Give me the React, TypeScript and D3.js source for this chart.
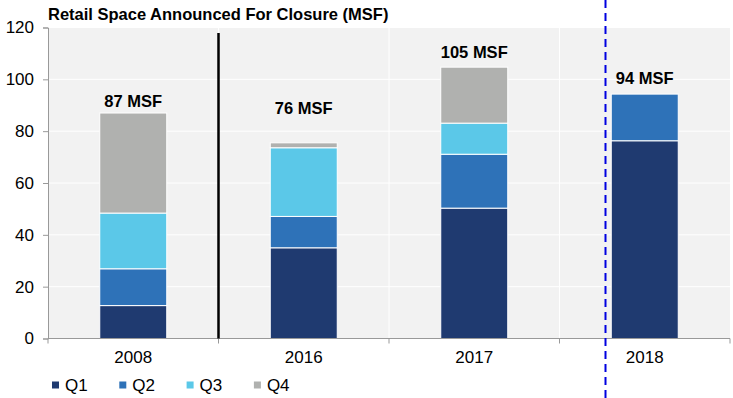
import { useEffect, useRef } from 'react';
import * as d3 from 'd3';

const years = ['2008', '2016', '2017', '2018'];
const quarters = ['Q1', 'Q2', 'Q3', 'Q4'];
const q1 = [12.7, 35.0, 50.3, 76.3];
const q2 = [14.2, 12.1, 20.8, 18.0];
const q3 = [21.5, 26.5, 12.0, 0];
const q4 = [38.6, 1.9, 21.6, 0];
const totalLabels = ['87 MSF', '76 MSF', '105 MSF', '94 MSF'];
const yTicks = [0, 20, 40, 60, 80, 100, 120];

const colors = ['#1f3a70', '#2e72b8', '#5bc8e8', '#b0b1af'];

const App = () => {
  const ref = useRef<SVGSVGElement>(null);

  useEffect(() => {
    if (!ref.current) return;
    const svg = d3.select(ref.current);
    svg.selectAll('*').remove();

    const left = 48, right = 730, top = 27.5, bottom = 338.5;
    const font = 'Liberation Sans, Arial, sans-serif';

    const x = d3.scaleBand().domain(years).range([left, right]).paddingInner(0).paddingOuter(0);
    const y = d3.scaleLinear().domain([0, 120]).range([bottom, top]);
    const barW = 67;

    // plot background
    svg.append('rect')
      .attr('x', left).attr('y', top)
      .attr('width', right - left).attr('height', bottom - top)
      .attr('fill', '#f2f2f2');

    // horizontal grid
    svg.append('g')
      .selectAll('line')
      .data(yTicks.filter(d => d > 0))
      .enter().append('line')
      .attr('x1', left).attr('x2', right)
      .attr('y1', d => y(d)).attr('y2', d => y(d))
      .attr('stroke', '#fff').attr('stroke-width', 1);

    // vertical grid at category boundaries
    svg.append('g')
      .selectAll('line')
      .data(years.slice(1))
      .enter().append('line')
      .attr('x1', d => x(d)!).attr('x2', d => x(d)!)
      .attr('y1', top).attr('y2', bottom)
      .attr('stroke', '#fff').attr('stroke-width', 1);

    // stacked bars
    const rows = years.map((yr, i) => ({ year: yr, Q1: q1[i], Q2: q2[i], Q3: q3[i], Q4: q4[i] }));
    const stack = d3.stack<any>().keys(quarters)(rows);

    svg.append('g')
      .selectAll('g')
      .data(stack)
      .enter().append('g')
      .attr('fill', (_, i) => colors[i])
      .selectAll('rect')
      .data(d => d.filter(s => s[1] - s[0] > 0))
      .enter().append('rect')
      .attr('x', d => x(d.data.year)! + x.bandwidth() / 2 - barW / 2)
      .attr('width', barW)
      .attr('y', d => y(d[1]))
      .attr('height', d => y(d[0]) - y(d[1]))
      .attr('stroke', '#fff')
      .attr('stroke-width', 1);

    // total labels
    const labelOffset = [12, 35, 15, 16];
    svg.append('g')
      .selectAll('text')
      .data(years)
      .enter().append('text')
      .attr('x', d => x(d)! + x.bandwidth() / 2)
      .attr('y', (d, i) => y(q1[i] + q2[i] + q3[i] + q4[i]) - labelOffset[i])
      .attr('dy', '0.35em')
      .attr('text-anchor', 'middle')
      .attr('font-family', font)
      .attr('font-weight', 'bold')
      .attr('font-size', 16.5)
      .attr('fill', '#000')
      .text((_, i) => totalLabels[i]);

    // y axis
    const yAxis = svg.append('g')
      .attr('transform', `translate(${left},0)`)
      .call(d3.axisLeft(y).tickValues(yTicks).tickSize(5).tickPadding(9));
    yAxis.select('.domain').attr('stroke', '#999');
    yAxis.selectAll('.tick line').attr('stroke', '#999');
    yAxis.selectAll('text')
      .attr('font-family', font).attr('font-size', 17).attr('fill', '#000');

    // x axis
    svg.append('line')
      .attr('x1', left).attr('x2', right)
      .attr('y1', bottom).attr('y2', bottom)
      .attr('stroke', '#999');
    const bounds = [...years.map(d => x(d)!), right];
    svg.append('g')
      .selectAll('line')
      .data(bounds)
      .enter().append('line')
      .attr('x1', d => d).attr('x2', d => d)
      .attr('y1', bottom).attr('y2', bottom + 5)
      .attr('stroke', '#999');
    svg.append('g')
      .selectAll('text')
      .data(years)
      .enter().append('text')
      .attr('x', d => x(d)! + x.bandwidth() / 2)
      .attr('y', 363)
      .attr('text-anchor', 'middle')
      .attr('font-family', font).attr('font-size', 17).attr('fill', '#000')
      .text(d => d);

    // black divider between 2008 and 2016
    svg.append('line')
      .attr('x1', x('2016')!).attr('x2', x('2016')!)
      .attr('y1', 33).attr('y2', bottom)
      .attr('stroke', '#000').attr('stroke-width', 2.5);

    // blue dashed marker
    const dashX = x('2018')! + 46;
    svg.append('line')
      .attr('x1', dashX).attr('x2', dashX)
      .attr('y1', 0).attr('y2', 398)
      .attr('stroke', '#0000e0').attr('stroke-width', 2)
      .attr('stroke-dasharray', '8,5');

    // title
    svg.append('text')
      .attr('x', left).attr('y', 20)
      .attr('font-family', font).attr('font-weight', 'bold').attr('font-size', 16.5)
      .attr('fill', '#000')
      .text('Retail Space Announced For Closure (MSF)');

    // legend
    const legend = svg.append('g').attr('transform', 'translate(52,385)');
    const item = legend.selectAll('g')
      .data(quarters)
      .enter().append('g')
      .attr('transform', (_, i) => `translate(${i * 67.3},0)`);
    item.append('rect')
      .attr('x', 0).attr('y', -3.5)
      .attr('width', 7).attr('height', 7)
      .attr('fill', (_, i) => colors[i]);
    item.append('text')
      .attr('x', 13).attr('y', 0)
      .attr('dy', '0.35em')
      .attr('font-family', font).attr('font-size', 17).attr('fill', '#000')
      .text(d => d);
  }, []);

  return (
    <svg ref={ref} width={733} height={398}
      style={{ position: 'absolute', left: 0, top: 0, background: '#fff' }} />
  );
};

export default App;
